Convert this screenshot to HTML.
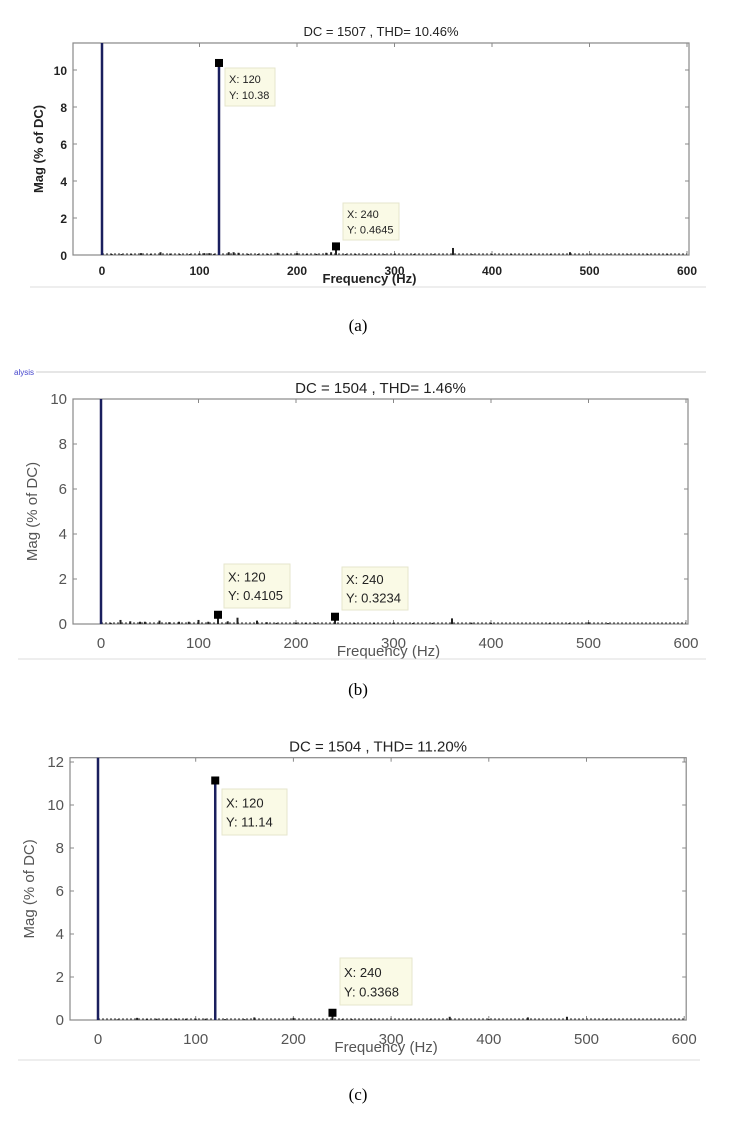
<!DOCTYPE html>
<html><head><meta charset="utf-8">
<style>
body{margin:0;background:#fff;width:732px;height:1131px;overflow:hidden;font-family:"Liberation Sans",Arial,sans-serif}
svg{position:absolute;left:0;top:0}
</style></head>
<body>
<svg id="s" width="732" height="1131" xmlns="http://www.w3.org/2000/svg"></svg>
<script>
// Panel (a)
const aFreq=[0,120,240,360,480,10,20,30,40,50,60,70,80,90,100,105,110,115,130,135,140,150,160,170,180,190,200,210,220,230,235,250,260,270,280,290,300,320,340,380,400,420,440,460,500,520,540,560,580];
const aMag=[11.5,10.38,0.4645,0.38,0.15,0.05,0.05,0.06,0.1,0.05,0.15,0.08,0.04,0.05,0.08,0.1,0.1,0.06,0.15,0.15,0.12,0.06,0.05,0.06,0.12,0.05,0.1,0.05,0.06,0.12,0.15,0.05,0.05,0.04,0.04,0.04,0.04,0.04,0.04,0.04,0.04,0.03,0.03,0.03,0.03,0.03,0.03,0.03,0.03];
// Panel (b)
const bFreq=[0,120,240,360,10,20,30,40,45,60,70,80,90,100,110,130,140,160,170,180,200,210,220,260,280,300,320,340,380,400,460,480,500,520];
const bMag=[10,0.4105,0.3234,0.25,0.05,0.18,0.12,0.1,0.1,0.15,0.08,0.1,0.1,0.18,0.1,0.12,0.28,0.15,0.08,0.05,0.06,0.06,0.05,0.04,0.06,0.05,0.04,0.05,0.06,0.05,0.03,0.03,0.08,0.04];
// Panel (c)
const cFreq=[0,120,240,360,440,480,20,40,50,60,70,80,90,100,110,130,150,160,200,250,260,280,320,340,400,520];
const cMag=[12.2,11.14,0.3368,0.15,0.12,0.15,0.03,0.1,0.06,0.06,0.06,0.06,0.06,0.06,0.06,0.04,0.04,0.12,0.1,0.03,0.03,0.03,0.03,0.03,0.04,0.03];
const xTicks=[0,100,200,300,400,500,600];
const aYTicks=[0,2,4,6,8,10];
const bYTicks=[0,2,4,6,8,10];
const cYTicks=[0,2,4,6,8,10,12];

const NS='http://www.w3.org/2000/svg';
const svg=document.getElementById('s');
function mk(tag,at,txt,parent){const e=document.createElementNS(NS,tag);for(const k in at)e.setAttribute(k,at[k]);if(txt!==undefined)e.textContent=txt;(parent||svg).appendChild(e);return e;}

function panel(id,P,freq,mag,yTicks,title,ann,cap){
  const g=mk('g',{});
  
  
  const X=f=>P.x0+f*P.sx, Y=v=>P.y0-v*P.sy;
  const top=Y(P.ymax), right=X(600)+2;
  const fs=P.bold?12:15, col=P.bold?'#222':'#555', fw=P.bold?'bold':'normal';
  const t=mk('text',{x:(P.left+right)/2,y:top-P.tOff,'text-anchor':'middle','font-size':P.bold?13:15,fill:'#222'},title,g);
  
  const box=mk('rect',{x:P.left,y:top,width:right-P.left,height:P.y0-top,fill:'#fff',stroke:'#888','stroke-width':1.2},undefined,g);
  
  xTicks.forEach(v=>{
    mk('line',{x1:X(v),x2:X(v),y1:P.y0,y2:P.y0-4,stroke:'#888'},undefined,g);
    mk('line',{x1:X(v),x2:X(v),y1:top,y2:top+4,stroke:'#888'},undefined,g);
    const l=mk('text',{x:X(v),y:P.y0+(P.bold?20:24),'text-anchor':'middle','font-size':fs,'font-weight':fw,fill:col},v,g);
    
  });
  yTicks.forEach(v=>{
    mk('line',{x1:P.left,x2:P.left+4,y1:Y(v),y2:Y(v),stroke:'#888'},undefined,g);
    mk('line',{x1:right,x2:right-4,y1:Y(v),y2:Y(v),stroke:'#888'},undefined,g);
    const l=mk('text',{x:P.left-6,y:Y(v)+5,'text-anchor':'end','font-size':fs,'font-weight':fw,fill:col},v,g);
    
  });
  const xl=mk('text',{x:(X(300)+P.xlOff),y:P.y0+(P.bold?28:32),'text-anchor':'middle','font-size':P.bold?13:15,'font-weight':fw,fill:col},'Frequency (Hz)',g);
  
  const yc=(top+P.y0)/2;
  const yx=P.left-(P.bold?30:36);
  const yl=mk('text',{x:yx,y:yc,'text-anchor':'middle','font-size':P.bold?13:15,'font-weight':fw,fill:col,transform:`rotate(-90 ${yx} ${yc})`},'Mag (% of DC)',g);
  
  mk('line',{x1:X(0),x2:X(600),y1:P.y0-1,y2:P.y0-1,stroke:'#333','stroke-width':1,'stroke-dasharray':'2 2'},undefined,g);
  freq.forEach((f,i)=>{
    const big=mag[i]>1;
    const b=mk('line',{x1:X(f),x2:X(f),y1:P.y0,y2:Math.max(top,Y(mag[i])),stroke:big?'#1a1f5e':'#222','stroke-width':big?2.5:2},undefined,g);
    
    
  });
  ann.forEach(a=>{
    const i=freq.indexOf(a.f);const v=mag[i];
    const m=mk('rect',{x:X(a.f)-4,y:Y(v)-4,width:8,height:8,fill:'#000'},undefined,g);
    
    const tb=mk('g',{},undefined,g);
    
    mk('rect',{x:a.x,y:a.y,width:a.w,height:a.h,fill:'#fafae6',stroke:'#e6e6cc'},undefined,tb);
    mk('text',{x:a.x+4,y:a.y+a.h*0.4,'font-size':P.bold?11:13,fill:'#222'},'X: '+a.f,tb);
    mk('text',{x:a.x+4,y:a.y+a.h*0.82,'font-size':P.bold?11:13,fill:'#222'},'Y: '+a.lbl,tb);
  });
  const c=mk('text',{x:P.capX,y:P.capY,'text-anchor':'middle','font-family':'Liberation Serif,serif','font-size':17,fill:'#000'},cap);
  
}

panel('panel-a',{left:73,x0:102,sx:0.975,y0:255,sy:18.5,ymax:11.46,bold:true,xlOff:-25,tOff:7,capX:358,capY:331},
  aFreq,aMag,aYTicks,'DC = 1507 , THD= 10.46%',
  [{f:120,x:225,y:68,w:50,h:38,lbl:'10.38'},{f:240,x:343,y:203,w:56,h:37,lbl:'0.4645'}],'(a)');
mk('line',{x1:30,x2:706,y1:287,y2:287,stroke:'#ddd'});

const al=mk('text',{x:14,y:375,'font-size':8,fill:'#44c'},'alysis');

mk('line',{x1:36,x2:706,y1:372,y2:372,stroke:'#ccc'});
panel('panel-b',{left:73,x0:101,sx:0.975,y0:624,sy:22.5,ymax:10,bold:false,xlOff:-5,tOff:6,capX:358,capY:695},
  bFreq,bMag,bYTicks,'DC = 1504 , THD= 1.46%',
  [{f:120,x:224,y:564,w:66,h:44,lbl:'0.4105'},{f:240,x:342,y:567,w:66,h:43,lbl:'0.3234'}],'(b)');
mk('line',{x1:18,x2:706,y1:659,y2:659,stroke:'#ddd'});

panel('panel-c',{left:70,x0:98,sx:0.977,y0:1020,sy:21.5,ymax:12.2,bold:false,xlOff:-5,tOff:6,capX:358,capY:1100},
  cFreq,cMag,cYTicks,'DC = 1504 , THD= 11.20%',
  [{f:120,x:222,y:789,w:65,h:46,lbl:'11.14'},{f:240,x:340,y:958,w:72,h:47,lbl:'0.3368'}],'(c)');
mk('line',{x1:18,x2:700,y1:1060,y2:1060,stroke:'#ddd'});
</script>
</body></html>
